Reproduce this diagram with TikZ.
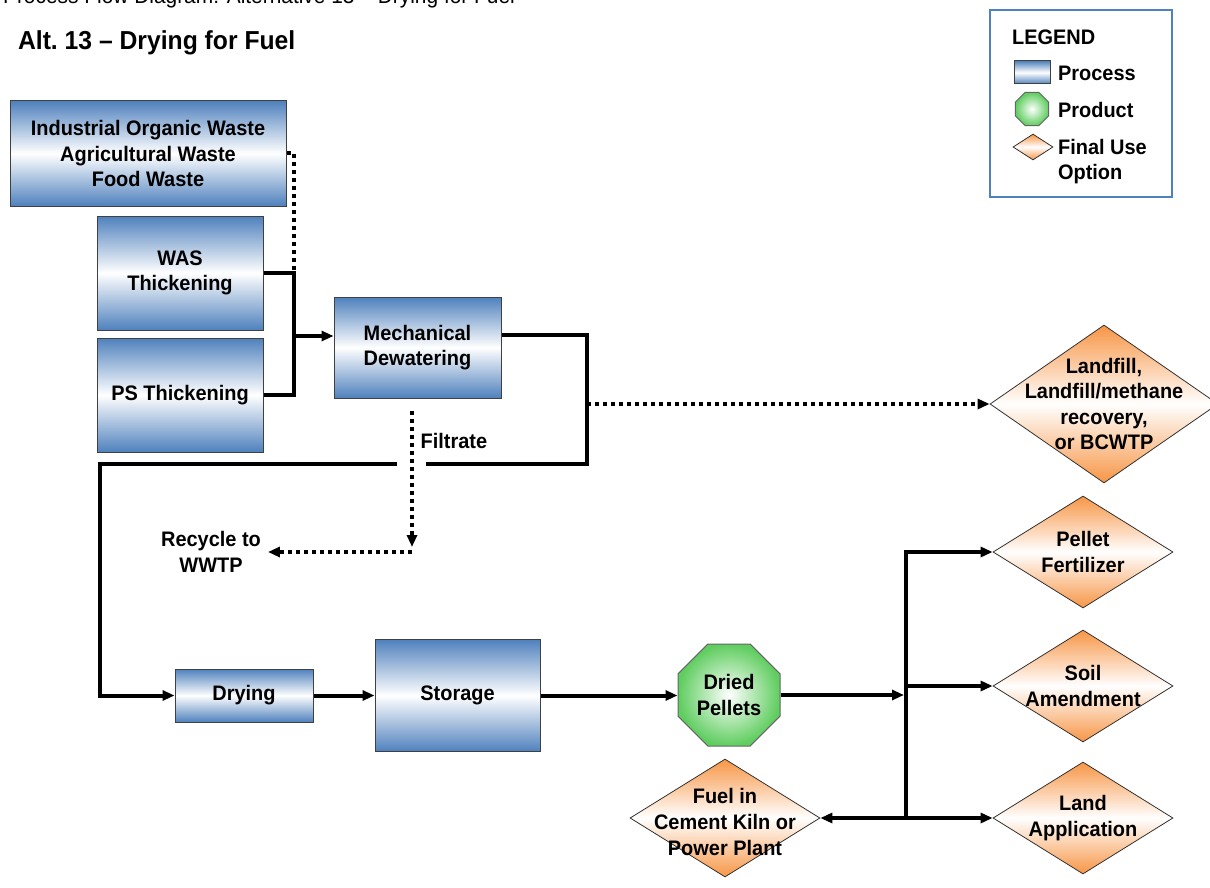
\documentclass[tikz,border=0pt]{standalone}
\usepackage{fontspec}
\setmainfont{Liberation Sans}[FakeStretch=0.95]
\usetikzlibrary{arrows.meta,positioning,shapes.geometric}

\definecolor{procblue}{RGB}{79,129,189}
\definecolor{useorange}{RGB}{247,150,70}
\definecolor{prodgreen}{RGB}{95,205,95}

\begin{document}
\begin{tikzpicture}[
    x=0.5pt, y=-0.5pt,
    font=\fontsize{10.5}{12.8}\selectfont\bfseries,
    process/.style={draw=black!75, line width=0.5pt, top color=procblue, bottom color=procblue, middle color=white, align=center, inner sep=1pt},
    product/.style={regular polygon, regular polygon sides=8, draw=black!60, line width=0.5pt, inner color=white, outer color=prodgreen, align=center, inner sep=0pt},
    finaluse/.style={diamond, draw=black!80, line width=0.4pt, top color=useorange, bottom color=useorange, middle color=white, inner sep=0pt},
    pipe/.style={line width=2pt},
    flow/.style={pipe, -{Triangle[length=6pt, width=5pt]}},
    dots/.style={line width=2pt, dash pattern=on 2pt off 2pt},
    dotflow/.style={dots, -{Triangle[length=6pt, width=5pt]}},
    gap/.style={white, line width=3.5pt}
  ]
  \useasboundingbox (0,0) rectangle (1210,888);

  % headings
  \node[anchor=base east, font=\fontsize{11}{13}\selectfont\mdseries] (caption) at (522,4) {Process Flow Diagram: Alternative 13 -- Drying for Fuel};
  \node[anchor=west, font=\fontsize{13}{15}\selectfont\bfseries] (title) at (11,43) {Alt.\ 13 -- Drying for Fuel};

  % legend
  \node[draw=procblue, line width=1pt, minimum width=91pt, minimum height=93.5pt] (legend) at (1081,103.5) {};
  \node[anchor=west] (legtitle) at (1005,37) {LEGEND};
  \node[process, minimum width=18pt, minimum height=11.5pt, inner sep=0pt] (legproc) at (1032,72.5) {};
  \node[anchor=west] (legproctxt) at (1051,73) {Process};
  \node[product, minimum size=18pt] (legprod) at (1032,109) {};
  \node[anchor=west] (legprodtxt) at (1051,110) {Product};
  \node[finaluse, minimum width=20pt, minimum height=13pt] (leguse) at (1033,147) {};
  \node[anchor=west, align=left] (legusetxt) at (1051,161.5) {Final Use\\Option};

  % processes
  \node[process, minimum width=138pt, minimum height=52.5pt] (ind) at (148,153.5) {Industrial Organic Waste\\Agricultural Waste\\Food Waste};
  \node[process, minimum width=83pt, minimum height=57pt] (was) at (180,273) {WAS\\Thickening};
  \node[process, minimum width=83pt, minimum height=57pt, below=3.5pt of was] (ps) {PS Thickening};
  \node[process, minimum width=83.5pt, minimum height=50.5pt] (mech) at (417.5,347.5) {Mechanical\\Dewatering};
  \node[process, minimum width=69pt, minimum height=26.5pt] (drying) at (244,695.5) {Drying};
  \node[process, minimum width=82.5pt, minimum height=56pt, right=30.5pt of drying] (storage) {Storage};
  \node[align=center] (recycle) at (211,552) {Recycle to\\WWTP};

  % product
  \node[product, minimum size=55.2pt] (pellets) at (729,695) {Dried\\Pellets};

  % final use options
  \node[finaluse, minimum width=114pt, minimum height=79pt] (landfill) at (1104,404) {};
  \node[align=center] (landfilltxt) at (landfill) {Landfill,\\Landfill/methane\\recovery,\\or BCWTP};
  \node[finaluse, minimum width=90pt, minimum height=56pt] (fert) at (1083,552) {};
  \node[align=center] (ferttxt) at (fert) {Pellet\\Fertilizer};
  \node[finaluse, minimum width=90pt, minimum height=56pt] (soil) at (1083,686) {};
  \node[align=center] (soiltxt) at (soil) {Soil\\Amendment};
  \node[finaluse, minimum width=90pt, minimum height=56pt] (land) at (1083,818) {};
  \node[align=center] (landtxt) at (land) {Land\\Application};
  \node[finaluse, minimum width=95pt, minimum height=59pt] (fuel) at (725,818) {};
  \node[align=center] (fueltxt) at ([yshift=-2pt]fuel) {Fuel in\\Cement Kiln or\\Power Plant};

  % routing points
  \coordinate (join) at (294,336);
  \coordinate (riseA) at (587,464);
  \coordinate (dropA) at (100,464);
  \coordinate (bus) at (906,686);
  \coordinate (mechout) at ([yshift=6.5pt]mech.east);
  \coordinate (filt) at ([xshift=-2.75pt, yshift=-6pt]mech.south);
  \coordinate (bend) at (filt |- recycle.east);
  \coordinate (cross) at (filt |- dropA);

  % feed to dewatering
  \draw[dots] (ind.east) -| (join |- was.east);
  \draw[pipe] (was.east) -| (join);
  \draw[pipe] (ps.east) -| (join);
  \draw[flow] (join) -- (join -| mech.west);

  % cake to drying
  \draw[flow] (mechout) -| (riseA) -- (dropA) |- (drying.west);
  \draw[dotflow] (landfill.west -| riseA) -- (landfill.west);
  \draw[gap] ([xshift=-7.5pt]cross) -- ([xshift=7pt]cross);

  % filtrate return
  \draw[dotflow] (filt) -- ([yshift=2.5pt]bend) node[pos=0.22, right] (filtrate) {Filtrate};
  \draw[dotflow] (bend) -- (recycle.east);

  % drying train
  \draw[flow] (drying.east) -- (drying.east -| storage.west);
  \draw[flow] (storage.east) -- (storage.east -| pellets.west);
  \draw[flow, shorten >=1pt] (pellets.east) -- (pellets.east -| bus);

  % distribution
  \draw[pipe, line cap=rect] (fert.west -| bus) -- (land.west -| bus);
  \draw[flow] (fert.west -| bus) -- (fert.west);
  \draw[flow] (soil.west -| bus) -- (soil.west);
  \draw[flow] (land.west -| bus) -- (land.west);
  \draw[flow] (land.west -| bus) -- (fuel.east);
\end{tikzpicture}
\end{document}
